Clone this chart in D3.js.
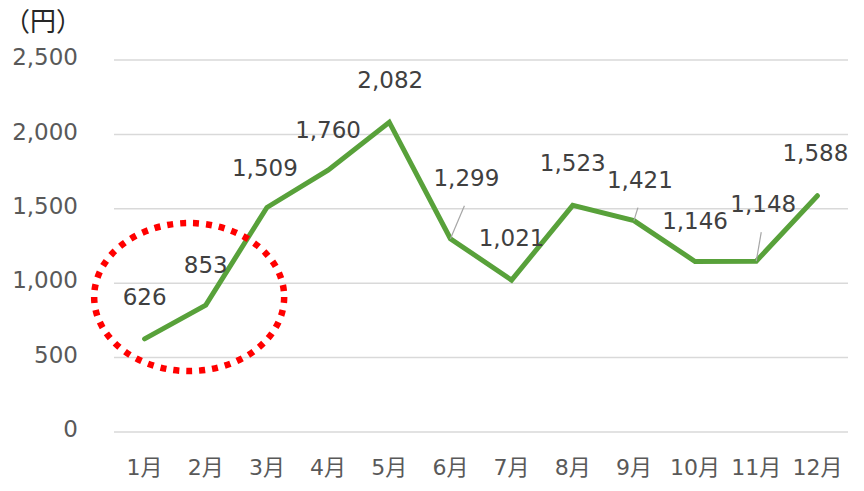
<!DOCTYPE html>
<html>
<head>
<meta charset="utf-8">
<script src="https://cdn.jsdelivr.net/npm/d3@7"></script>
<style>
  html, body { margin: 0; padding: 0; background: #fff; }
  svg { display: block; font-family: "DejaVu Sans", "Noto Sans CJK JP", sans-serif; }
</style>
</head>
<body>
<svg id="chart" width="864" height="491"></svg>
<script>
// Monthly amounts (yen)
const months = ["1月", "2月", "3月", "4月", "5月", "6月", "7月", "8月", "9月", "10月", "11月", "12月"];
const values = [626, 853, 1509, 1760, 2082, 1299, 1021, 1523, 1421, 1146, 1148, 1588];
const yTicks = [0, 500, 1000, 1500, 2000, 2500];
const unitLabel = "（円）";

// Label placement relative to each point: [dx, dy] in pixels; leader = draw a connector
const labelOffsets = [
  [0, -42, false], [0, -40, false], [-2, -40, false], [0, -40, false], [1, -42, false],
  [16, -61, true], [0, -42, false], [0, -42, false], [6, -41, true],
  [0, -41, false], [7, -57, true], [-2, -43, false]
];

const width = 864, height = 491;
const margin = { left: 114, right: 16, top: 60, bottom: 59 };
const svg = d3.select("#chart");

const x = d3.scaleBand()
  .domain(months)
  .range([margin.left, width - margin.right]);

const y = d3.scaleLinear()
  .domain([0, 2500])
  .range([height - margin.bottom, margin.top]);

// Horizontal gridlines
svg.append("g")
  .selectAll("line")
  .data(yTicks)
  .join("line")
  .attr("x1", margin.left)
  .attr("x2", width - margin.right)
  .attr("y1", d => y(d))
  .attr("y2", d => y(d))
  .attr("stroke", "#d9d9d9")
  .attr("stroke-width", 1.5);

// Y axis labels
const yAxis = d3.axisLeft(y).tickValues(yTicks).tickFormat(d3.format(",")).tickSize(0).tickPadding(36);
const gy = svg.append("g").attr("transform", `translate(${margin.left},0)`).call(yAxis);
gy.select(".domain").remove();
gy.selectAll("text")
  .attr("font-size", 23)
  .attr("fill", "#595959")
  .attr("font-family", "DejaVu Sans, Noto Sans CJK JP, sans-serif")
  .attr("dy", "0.2em");

// X axis labels
const xAxis = d3.axisBottom(x).tickSize(0).tickPadding(27);
const gx = svg.append("g").attr("transform", `translate(0,${y(0)})`).call(xAxis);
gx.select(".domain").remove();
gx.selectAll("text")
  .attr("font-size", 22)
  .attr("fill", "#595959")
  .attr("font-family", "DejaVu Sans, Noto Sans CJK JP, sans-serif");

// Unit label
svg.append("text")
  .attr("x", 4)
  .attr("y", 31)
  .attr("font-size", 26)
  .attr("fill", "#262626")
  .attr("font-family", "Noto Sans CJK JP, sans-serif")
  .text(unitLabel);

const cx = d => x(d) + x.bandwidth() / 2;

// Data line
const line = d3.line()
  .x((d, i) => cx(months[i]))
  .y(d => y(d));

svg.append("path")
  .datum(values)
  .attr("fill", "none")
  .attr("stroke", "#58A13A")
  .attr("stroke-width", 5)
  .attr("stroke-linejoin", "miter")
  .attr("stroke-linecap", "round")
  .attr("d", line);

// Leader lines for offset labels
svg.append("g")
  .selectAll("line")
  .data(values.map((v, i) => ({ v, i })).filter(d => labelOffsets[d.i][2]))
  .join("line")
  .attr("x1", d => cx(months[d.i]))
  .attr("y1", d => y(d.v))
  .attr("x2", d => cx(months[d.i]) + labelOffsets[d.i][0] - 2)
  .attr("y2", d => y(d.v) + labelOffsets[d.i][1] + 28)
  .attr("stroke", "#a6a6a6")
  .attr("stroke-width", 1.2);

// Value labels
svg.append("g")
  .selectAll("text")
  .data(values)
  .join("text")
  .attr("x", (d, i) => cx(months[i]) + labelOffsets[i][0])
  .attr("y", (d, i) => y(d) + labelOffsets[i][1])
  .attr("text-anchor", "middle")
  .attr("dy", "0.35em")
  .attr("font-size", 23)
  .attr("fill", "#404040")
  .text(d3.format(","));

// Highlight ring around the first two months
svg.append("ellipse")
  .attr("cx", (cx(months[0]) + cx(months[1])) / 2 + 14)
  .attr("cy", y(907))
  .attr("rx", 95)
  .attr("ry", 74)
  .attr("fill", "none")
  .attr("stroke", "#ff0000")
  .attr("stroke-width", 6.5)
  .attr("stroke-dasharray", "6 7");
</script>
</body>
</html>
